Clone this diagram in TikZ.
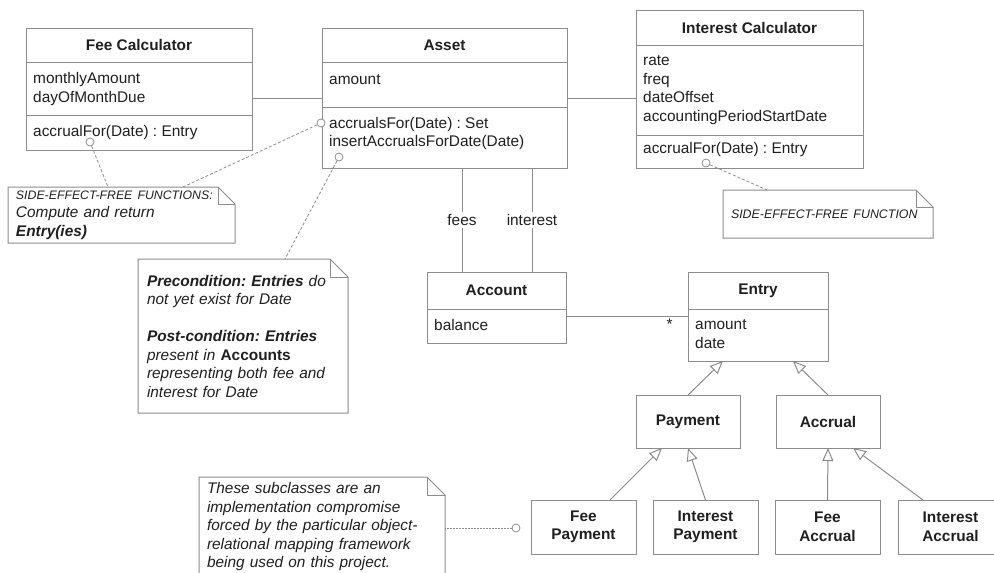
\documentclass[tikz,border=0pt]{standalone}
\usepackage{fontspec}
\setmainfont{Liberation Sans}
\usetikzlibrary{arrows.meta, positioning, calc}
\frenchspacing

\definecolor{linegray}{gray}{0.55}
\definecolor{inkgray}{gray}{0.12}

\begin{document}
\begin{tikzpicture}[
        % one unit = one pixel of the reference, y downwards
        x=1pt, y=-1pt,
        font=\fontsize{15.4}{18.5}\selectfont,
        every node/.style={text=inkgray},
        classbox/.style={
            draw=linegray,
            line width=1pt,
            inner sep=0pt,
            outer sep=0pt,
            anchor=north west
        },
        simplebox/.style={
            draw=linegray,
            line width=1pt,
            inner sep=0pt,
            outer sep=0pt,
            align=center,
            font=\fontsize{15.4}{18.5}\selectfont\bfseries,
            minimum width=105pt,
            minimum height=54pt
        },
        header/.style={font=\fontsize{15.4}{18.5}\selectfont\bfseries},
        attr/.style={anchor=west, align=left, inner xsep=7pt, inner ysep=0pt},
        divider/.style={draw=linegray, line width=1pt},
        assoc/.style={draw=linegray, line width=1pt},
        inherit/.style={
            draw=linegray,
            line width=1pt,
            -{Triangle[open, length=13pt, width=11pt]}
        },
        notebox/.style={
            anchor=north west,
            inner xsep=8pt,
            inner ysep=0pt,
            outer sep=0pt,
            align=left,
            font=\fontsize{15.4}{18.5}\selectfont\itshape
        },
        noteedge/.style={draw=linegray, line width=1pt},
        noteline/.style={draw=linegray, line width=0.8pt, dash pattern=on 3pt off 2pt},
        lollipop/.style={
            circle,
            draw=linegray,
            line width=0.8pt,
            fill=white,
            minimum size=8pt,
            inner sep=0pt
        },
        rolelabel/.style={fill=white, inner sep=2pt}
    ]

    \useasboundingbox (0,0) rectangle (994,573);
    \clip (0,0) rectangle (994,573);

    % --- classes with compartments ---

    % Fee Calculator
    \node[classbox, minimum width=226pt, minimum height=122pt] (feecalc) at (26,28) {};
    \node[header] (feecalcName) at ($(feecalc.north)+(0,17)$) {Fee Calculator};
    \draw[divider] ($(feecalc.north west)+(0,34)$) -- ($(feecalc.north east)+(0,34)$);
    \draw[divider] ($(feecalc.north west)+(0,87)$) -- ($(feecalc.north east)+(0,87)$);
    \node[attr] (feecalcAttr) at ($(feecalc.north west)+(0,61)$) {monthlyAmount\\dayOfMonthDue};
    \node[attr] (feecalcOps) at ($(feecalc.north west)+(0,105)$) {accrualFor(Date) : Entry};

    % Asset
    \node[classbox, minimum width=245pt, minimum height=140pt] (asset) at (322,28) {};
    \node[header] (assetName) at ($(asset.north)+(0,17)$) {Asset};
    \draw[divider] ($(asset.north west)+(0,34)$) -- ($(asset.north east)+(0,34)$);
    \draw[divider] ($(asset.north west)+(0,79)$) -- ($(asset.north east)+(0,79)$);
    \node[attr] (assetAttr) at ($(asset.north west)+(0,52)$) {amount};
    \node[attr] (assetOps) at ($(asset.north west)+(0,105.5)$) {accrualsFor(Date) : Set\\insertAccrualsForDate(Date)};

    % Interest Calculator
    \node[classbox, minimum width=227pt, minimum height=158pt] (intcalc) at (636,10) {};
    \node[header] (intcalcName) at ($(intcalc.north)+(0,17.5)$) {Interest Calculator};
    \draw[divider] ($(intcalc.north west)+(0,35)$) -- ($(intcalc.north east)+(0,35)$);
    \draw[divider] ($(intcalc.north west)+(0,125)$) -- ($(intcalc.north east)+(0,125)$);
    \node[attr] (intcalcAttr) at ($(intcalc.north west)+(0,80)$) {rate\\freq\\dateOffset\\accountingPeriodStartDate};
    \node[attr] (intcalcOps) at ($(intcalc.north west)+(0,140)$) {accrualFor(Date) : Entry};

    % Account
    \node[classbox, minimum width=139pt, minimum height=71pt] (account) at (427,272) {};
    \node[header] (accountName) at ($(account.north)+(0,18.5)$) {Account};
    \draw[divider] ($(account.north west)+(0,37)$) -- ($(account.north east)+(0,37)$);
    \node[attr] (accountAttr) at ($(account.north west)+(0,53)$) {balance};

    % Entry
    \node[classbox, minimum width=140pt, minimum height=89pt] (entry) at (688,272) {};
    \node[header] (entryName) at ($(entry.north)+(0,18.5)$) {Entry};
    \draw[divider] ($(entry.north west)+(0,37)$) -- ($(entry.north east)+(0,37)$);
    \node[attr] (entryAttr) at ($(entry.north west)+(0,62)$) {amount\\date};

    % --- subclasses ---
    \node[simplebox, anchor=north west, minimum width=104pt, minimum height=53pt] (payment) at (636,395) {Payment};
    \node[simplebox, minimum width=104pt, minimum height=53pt, right=36pt of payment] (accrual) {Accrual};

    \node[simplebox, anchor=north west] (feepay) at (531,500) {Fee\\Payment};
    \node[simplebox, right=17pt of feepay] (intpay) {Interest\\Payment};
    \node[simplebox, right=17pt of intpay] (feeacc) {Fee\\Accrual};
    \node[simplebox, right=18pt of feeacc] (intacc) {Interest\\Accrual};

    % --- associations ---
    \draw[assoc] (asset.west) -- (asset.west -| feecalc.east);
    \draw[assoc] (asset.east) -- (asset.east -| intcalc.west);

    \coordinate (feesTop) at ($(asset.south west)+(140,0)$);
    \coordinate (interestTop) at ($(asset.south west)+(210,0)$);
    \draw[assoc] (feesTop) -- node[rolelabel] (feesLbl) {fees} (feesTop |- account.north);
    \draw[assoc] (interestTop) -- node[rolelabel] (interestLbl) {interest} (interestTop |- account.north);

    \draw[assoc] (entry.west) -- node[pos=0.15, below=1pt, inner sep=1pt] (entryMult) {*} (entry.west -| account.east);

    % --- generalizations ---
    \draw[inherit] (payment.north) -- ($(entry.south west)+(35,0)$);
    \draw[inherit] (accrual.north) -- ($(entry.south east)+(-35,0)$);
    \draw[inherit] ($(feepay.north east)+(-26,0)$) -- ($(payment.south west)+(26,0)$);
    \draw[inherit] (intpay.north) -- (payment.south);
    \draw[inherit] (feeacc.north) -- (accrual.south);
    \draw[inherit] ($(intacc.north west)+(25,0)$) -- ($(accrual.south east)+(-27,0)$);

    % --- notes ---
    \node[notebox, minimum width=227pt, minimum height=56pt, text width=211pt] (sideNote) at (8,187)
        {{\fontsize{12.3}{18.5}\selectfont SIDE-EFFECT-FREE FUNCTIONS:}\\Compute and return\\\textbf{Entry(ies)}};
    \draw[noteedge] (sideNote.south west) -- (sideNote.north west) -- ($(sideNote.north east)+(-17,0)$)
        -- ($(sideNote.north east)+(0,17)$) -- (sideNote.south east) -- cycle;
    \draw[noteedge] ($(sideNote.north east)+(-17,0)$) |- ($(sideNote.north east)+(0,17)$);

    \node[notebox, minimum width=210pt, minimum height=48pt, text width=194pt] (funcNote) at (723,190)
        {{\fontsize{12.4}{18.5}\selectfont SIDE-EFFECT-FREE FUNCTION}};
    \draw[noteedge] (funcNote.south west) -- (funcNote.north west) -- ($(funcNote.north east)+(-17,0)$)
        -- ($(funcNote.north east)+(0,17)$) -- (funcNote.south east) -- cycle;
    \draw[noteedge] ($(funcNote.north east)+(-17,0)$) |- ($(funcNote.north east)+(0,17)$);

    \node[notebox, minimum width=210pt, minimum height=154pt, text width=192pt, inner xsep=9pt] (condNote) at (138,259)
        {\textbf{Precondition: Entries} do\\not yet exist for Date\\[18.5pt]
         \textbf{Post-condition: Entries}\\present in \textbf{\upshape Accounts}\\representing both fee and\\interest for Date};
    \draw[noteedge] (condNote.south west) -- (condNote.north west) -- ($(condNote.north east)+(-18,0)$)
        -- ($(condNote.north east)+(0,18)$) -- (condNote.south east) -- cycle;
    \draw[noteedge] ($(condNote.north east)+(-18,0)$) |- ($(condNote.north east)+(0,18)$);

    \node[notebox, minimum width=246pt, minimum height=100pt, text width=230pt] (mapNote) at (199,477)
        {These subclasses are an\\implementation compromise\\forced by the particular object-\\relational mapping framework\\being used on this project.};
    \draw[noteedge] (mapNote.south west) -- (mapNote.north west) -- ($(mapNote.north east)+(-18,0)$)
        -- ($(mapNote.north east)+(0,18)$) -- (mapNote.south east) -- cycle;
    \draw[noteedge] ($(mapNote.north east)+(-18,0)$) |- ($(mapNote.north east)+(0,18)$);

    % --- note anchors (lollipops) ---
    \node[lollipop] (feecalcPin) at (90,142) {};
    \node[lollipop] (accrualsPin) at (321,123) {};
    \node[lollipop] (insertPin) at (339,157) {};
    \node[lollipop] (intcalcPin) at (706,163) {};
    \node[lollipop] (subclassPin) at (516,528) {};

    \draw[noteline] (feecalcPin) -- ($(sideNote.north west)+(100,0)$);
    \draw[noteline] (accrualsPin) -- ($(sideNote.north west)+(175,0)$);
    \draw[noteline] (insertPin) -- ($(condNote.north west)+(147,0)$);
    \draw[noteline] (intcalcPin) -- ($(funcNote.north west)+(44,0)$);
    \draw[noteline, dash pattern=on 1.5pt off 1.5pt] (subclassPin) -- ($(mapNote.north east)+(0,51)$);

\end{tikzpicture}
\end{document}
